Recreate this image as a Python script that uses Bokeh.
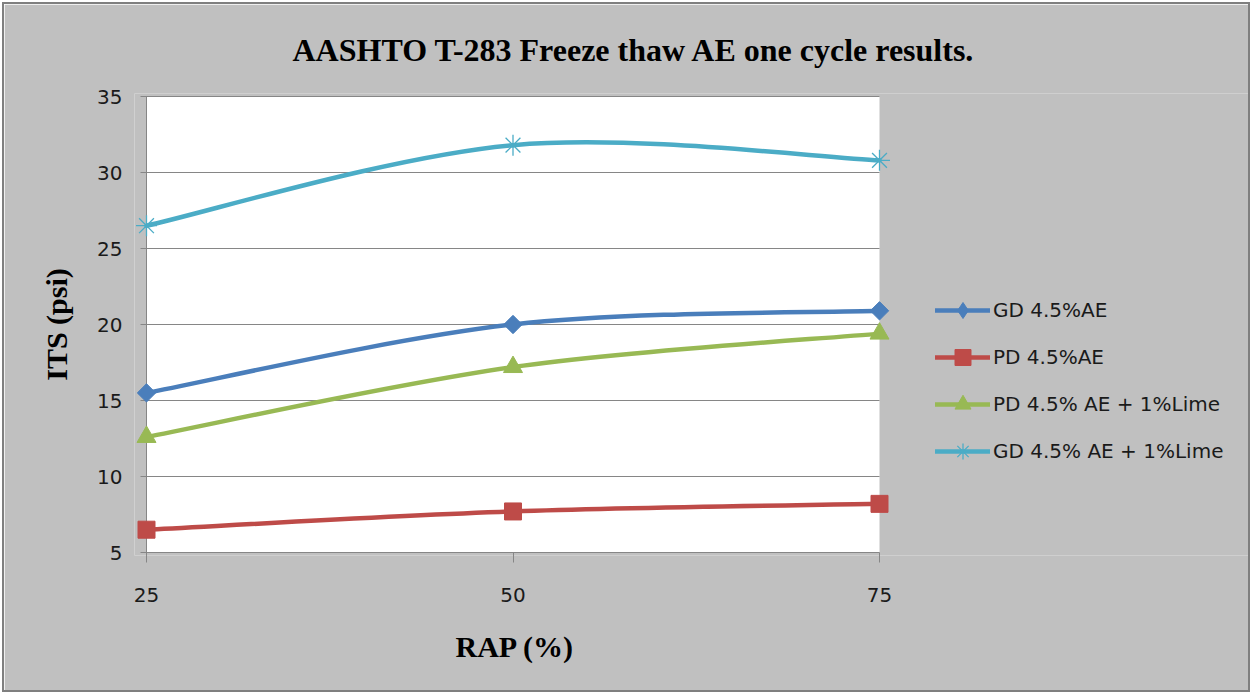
from bokeh.plotting import figure
from bokeh.models import (Range1d, FixedTicker, Legend, LegendItem, Title, BoxAnnotation)
from bokeh.embed import file_html
from bokeh.resources import INLINE
import math

# ---- data ----
rap = [25, 50, 75]
gd_ae = [15.5, 20.0, 20.9]
pd_ae = [6.5, 7.7, 8.2]
pd_ae_lime = [12.6, 17.2, 19.4]
gd_ae_lime = [26.5, 31.8, 30.8]
series_names = ["GD 4.5%AE", "PD 4.5%AE", "PD 4.5% AE + 1%Lime", "GD 4.5% AE + 1%Lime"]
y_ticks = [5, 10, 15, 20, 25, 30, 35]
x_ticks = [25, 50, 75]

title_text = "AASHTO T-283 Freeze thaw AE one cycle results."
x_label = "RAP (%)"
y_label = "ITS (psi)"

colors = ["#4a7ebb", "#be4b48", "#98b954", "#4bacc6"]
markers = ["square", "square", "triangle", "asterisk"]
angles = [math.pi / 4, 0, 0, 0]
sizes = [13, 17, 19, 21]

# ---- geometry (pixels) ----
W, H = 1248, 690           # canvas inside the 2px border + 2px margin
plot_w, plot_h = 733, 456  # white plot area
padx, pady = 12, 3         # grey padding inside the frame so edge markers are not clipped
xmin, xmax = x_ticks[0], x_ticks[-1]
ymin, ymax = y_ticks[0], y_ticks[-1]
upx = (xmax - xmin) / plot_w   # data units per pixel
upy = (ymax - ymin) / plot_h
frame_left_px = 146 - padx      # page pixels
frame_right_px = 1252
frame_top_px = 96 - pady
frame_bottom_px = 552 + pady

p = figure(width=W, height=H, output_backend="svg", toolbar_location=None,
           x_range=Range1d(xmin - padx * upx, xmin + (frame_right_px - 146) * upx),
           y_range=Range1d(ymin - pady * upy, ymax + pady * upy),
           min_border_left=frame_left_px - 4, min_border_right=0,
           min_border_top=frame_top_px - 4, min_border_bottom=H - (frame_bottom_px - 4))
p.styles = {"border": "2px solid #7f7f7f", "margin": "2px"}
p.border_fill_color = "#c0c0c0"
p.background_fill_color = "#c0c0c0"
p.outline_line_color = None

# white plot area
p.add_layout(BoxAnnotation(left=xmin, right=xmax, bottom=ymin, top=ymax,
                           fill_color="white", fill_alpha=1, line_color=None, level="underlay"))

# axes
p.xaxis.ticker = FixedTicker(ticks=x_ticks)
p.yaxis.ticker = FixedTicker(ticks=y_ticks)
for ax in (p.xaxis[0], p.yaxis[0]):
    ax.axis_line_color = None
    ax.major_tick_line_color = "#868686"
    ax.minor_tick_line_color = None
    ax.major_label_text_font = "DejaVu Sans"
    ax.major_label_text_font_size = "20px"
    ax.major_label_text_color = "#1a1a1a"
    ax.axis_label_text_font = "Liberation Serif"
    ax.axis_label_text_font_style = "bold"
    ax.axis_label_text_font_size = "30px"
    ax.axis_label_text_color = "black"
p.xaxis.major_tick_out = 7
p.xaxis.major_tick_in = pady
p.yaxis.major_tick_out = 0
p.yaxis.major_tick_in = 0
p.xaxis.major_label_standoff = 25
p.yaxis.major_label_standoff = 12
p.yaxis.axis_label = y_label
p.yaxis.axis_label_standoff = 21
p.xgrid.grid_line_color = None
p.ygrid.grid_line_color = None

# gridlines (with the small outside ticks) and the value axis line
tick_len = 6 * upx
p.segment(x0=[xmin - tick_len] * len(y_ticks), x1=[xmax] * len(y_ticks), y0=y_ticks, y1=y_ticks,
          line_color="#868686", line_width=1)
p.segment(x0=[xmin], x1=[xmin], y0=[ymin], y1=[ymax], line_color="#868686", line_width=1)


def smooth_segments(xs, ys):
    """Bezier control points (Catmull-Rom, tension 1/6) through the data points."""
    n = len(xs)
    seg = dict(x0=[], y0=[], x1=[], y1=[], cx0=[], cy0=[], cx1=[], cy1=[])
    for i in range(n - 1):
        xp, yp = (xs[i - 1], ys[i - 1]) if i > 0 else (xs[i], ys[i])
        xn, yn = (xs[i + 2], ys[i + 2]) if i + 2 < n else (xs[i + 1], ys[i + 1])
        seg["x0"].append(xs[i]); seg["y0"].append(ys[i])
        seg["x1"].append(xs[i + 1]); seg["y1"].append(ys[i + 1])
        seg["cx0"].append(xs[i] + (xs[i + 1] - xp) / 6)
        seg["cy0"].append(ys[i] + (ys[i + 1] - yp) / 6)
        seg["cx1"].append(xs[i + 1] - (xn - xs[i]) / 6)
        seg["cy1"].append(ys[i + 1] - (yn - ys[i]) / 6)
    return seg


items = []
all_series = [gd_ae, pd_ae, pd_ae_lime, gd_ae_lime]
for name, ys, c, m, a, s in zip(series_names, all_series, colors, markers, angles, sizes):
    seg = smooth_segments(rap, ys)
    r_line = p.bezier(x0=seg["x0"], y0=seg["y0"], x1=seg["x1"], y1=seg["y1"],
                      cx0=seg["cx0"], cy0=seg["cy0"], cx1=seg["cx1"], cy1=seg["cy1"],
                      line_color=c, line_width=4.5, line_cap="round")
    if m == "asterisk":
        r_pts = p.scatter(rap, ys, marker=m, size=s, line_color=c, line_width=1.3, angle=a)
        r_leg = r_pts
    elif a != 0:
        # diamond (hidden under the rotated square) used as the legend's marker
        r_leg = p.scatter(rap, ys, marker="diamond", size=16, fill_color=c, line_color=c)
        p.scatter(rap, ys, marker=m, size=s, fill_color=c, line_color=c, angle=a)
    else:
        r_pts = p.scatter(rap, ys, marker=m, size=s, fill_color=c, line_color=c, angle=a)
        r_leg = r_pts
    items.append(LegendItem(label=name, renderers=[r_line, r_leg], index=0))

legend = Legend(items=items, location=(935 - frame_left_px, frame_bottom_px - 471),
                orientation="vertical",
                glyph_width=55, glyph_height=40, label_height=20, spacing=7,
                padding=0, margin=0, label_standoff=3,
                label_text_font="DejaVu Sans", label_text_font_size="20px",
                label_text_color="#1a1a1a",
                border_line_color=None, background_fill_alpha=0)
p.add_layout(legend, "center")

title = Title(text=title_text, align="left", offset=292 - frame_left_px, standoff=51,
              text_font="Liberation Serif", text_font_style="bold",
              text_font_size="32px", text_color="black")
p.add_layout(title, "above")

xlab = Title(text=x_label, align="left", offset=455 - frame_left_px, standoff=47,
             text_font="Liberation Serif", text_font_style="bold",
             text_font_size="30px", text_color="black")
p.add_layout(xlab, "below")

open("out.html", "w").write(file_html(p, INLINE))
